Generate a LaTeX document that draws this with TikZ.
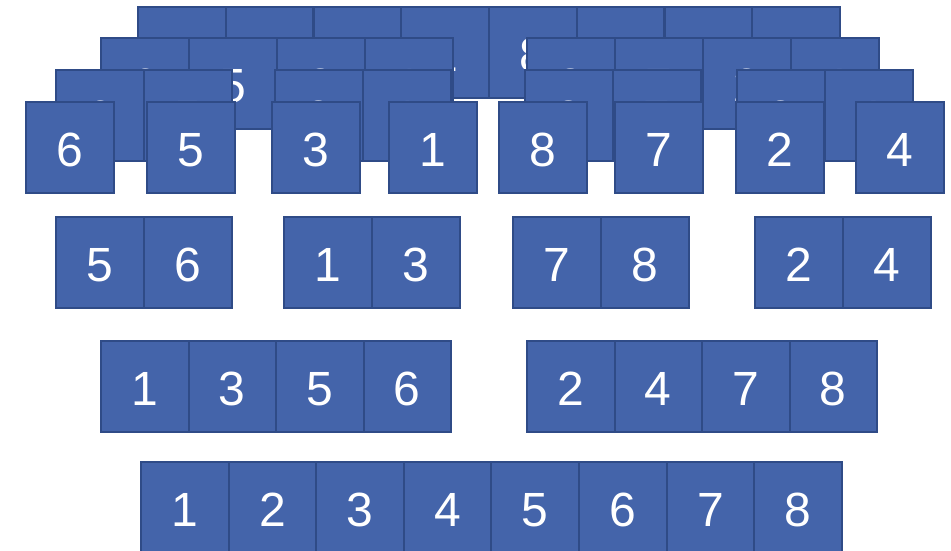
\documentclass[tikz,border=0pt]{standalone}
\usepackage{fontspec}
\setmainfont{Liberation Sans}
\definecolor{cellfill}{RGB}{68,100,170}
\definecolor{celledge}{RGB}{47,75,135}

\begin{document}
\begin{tikzpicture}[x=1pt,y=-1pt,
    cell/.style={
        draw=celledge,
        fill=cellfill,
        line width=2pt,
        anchor=north west,
        minimum width=87.5pt,
        minimum height=90.5pt,
        inner sep=0pt,
        outer sep=0pt,
        text=white,
        text height=38pt,
        text depth=0pt,
        font=\fontsize{48}{58}\selectfont
    }
]
\clip (0,0) rectangle (951,550);

% splitting, back to front
\foreach \v [count=\i from 0] in {6,5,3,1,8,7,2,4}
    \node[cell] (lvlA-\i) at ({138+87.75*\i},7) {\v};

\foreach \gx/\vals [count=\g] in {101/{6,5,3,1},527/{8,7,2,4}}
    \foreach \v [count=\i from 0] in \vals
        \node[cell] (lvlB-\g-\i) at ({\gx+88*\i},38) {\v};

\foreach \gx/\vals [count=\g] in {56/{6,5},275/{3,1},525/{8,7},737/{2,4}}
    \foreach \v [count=\i from 0] in \vals
        \node[cell] (lvlC-\g-\i) at ({\gx+88*\i},70) {\v};

\foreach \gx/\v [count=\g] in {26/6,147/5,272/3,389/1,499/8,615/7,736/2,856/4}
    \node[cell] (lvlD-\g) at (\gx,102) {\v};

% merging
\foreach \gx/\vals [count=\g] in {56/{5,6},284/{1,3},513/{7,8},755/{2,4}}
    \foreach \v [count=\i from 0] in \vals
        \node[cell] (mrgA-\g-\i) at ({\gx+88*\i},217) {\v};

\foreach \gx/\vals [count=\g] in {101/{1,3,5,6},527/{2,4,7,8}}
    \foreach \v [count=\i from 0] in \vals
        \node[cell] (mrgB-\g-\i) at ({\gx+87.5*\i},341) {\v};

\foreach \v [count=\i from 0] in {1,2,3,4,5,6,7,8}
    \node[cell] (mrgC-\i) at ({141+87.6*\i},462) {\v};
\end{tikzpicture}
\end{document}
